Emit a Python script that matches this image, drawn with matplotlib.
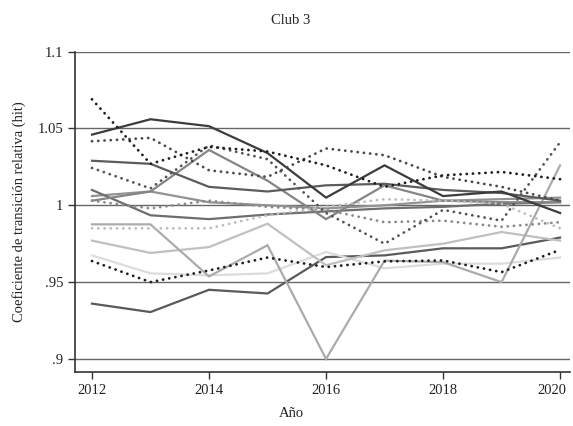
import numpy as np
import matplotlib.pyplot as plt
from matplotlib.transforms import ScaledTranslation

# Coeficiente de transición relativa por región, Club 3
years = [2012, 2013, 2014, 2015, 2016, 2017, 2018, 2019, 2020]

# líneas continuas
s1 = [1.046, 1.056, 1.0515, 1.034, 1.005, 1.026, 1.006, 1.009, 0.995]
s2 = [1.029, 1.027, 1.012, 1.009, 1.013, 1.014, 1.010, 1.008, 1.003]
s3 = [1.003, 1.009, 1.036, 1.016, 0.991, 1.013, 1.003, 1.002, 1.002]
s4 = [1.010, 0.9935, 0.991, 0.994, 0.996, 0.998, 0.999, 1.001, 1.002]
s5 = [1.006, 1.009, 1.002, 1.000, 0.998, 1.000, 1.003, 1.004, 1.005]
s6 = [0.9876, 0.9876, 0.9537, 0.974, 0.900, 0.964, 0.963, 0.950, 1.026]
s7 = [0.977, 0.969, 0.9728, 0.988, 0.961, 0.9707, 0.975, 0.9826, 0.977]
s8 = [0.9674, 0.9557, 0.9544, 0.9557, 0.9696, 0.959, 0.962, 0.962, 0.966]
s9 = [0.936, 0.9305, 0.945, 0.9426, 0.9663, 0.9674, 0.972, 0.972, 0.979]

# líneas punteadas
d1 = [1.069, 1.027, 1.038, 1.035, 1.026, 1.012, 1.0195, 1.0217, 1.017]
d2 = [1.0417, 1.0439, 1.0228, 1.0185, 1.037, 1.0326, 1.0185, 1.012, 1.003]
d3 = [1.0243, 1.011, 1.039, 1.030, 0.995, 0.975, 0.997, 0.990, 1.041]
d4 = [0.9637, 0.950, 0.9576, 0.966, 0.9598, 0.9635, 0.9641, 0.9565, 0.971]
d5 = [0.985, 0.985, 0.985, 0.9935, 0.999, 1.004, 1.003, 1.001, 0.985]
d6 = [1.003, 0.998, 1.003, 0.999, 0.997, 0.989, 0.990, 0.986, 0.989]

solid = [(s9, "#5a5a5a"), (s8, "#dcdcdc"), (s7, "#c0c0c0"), (s6, "#ababab"),
         (s5, "#929292"), (s4, "#6e6e6e"), (s3, "#858585"), (s2, "#5c5c5c"),
         (s1, "#3c3c3c")]
dotted = [(d6, "#8a8a8a"), (d5, "#bdbdbd"), (d4, "#1e1e1e"), (d3, "#555555"),
          (d2, "#4a4a4a"), (d1, "#1e1e1e")]

plt.rcParams["font.family"] = ["Liberation Serif", "DejaVu Serif"]

fig = plt.figure(figsize=(5.73, 4.26), dpi=100)
ax = fig.add_axes([0.1309, 0.1268, 0.8639, 0.7519])

for y in [0.9, 0.95, 1.0, 1.05, 1.1]:
    ax.axhline(y, color="#666666", lw=1.0, zorder=0)

for serie, c in solid:
    ax.plot(years, serie, color=c, lw=1.6, solid_joinstyle="miter")
for serie, c in dotted:
    ax.plot(years, serie, color=c, lw=2.0, linestyle=(0, (0.05, 2.2)),
            dash_capstyle="round")

ax.set_xlim(2011.71, 2020.17)
ax.set_ylim(0.8915, 1.1)
ax.set_xticks([2012, 2014, 2016, 2018, 2020])
ax.set_yticks([0.9, 0.95, 1.0, 1.05, 1.1])
ax.set_yticklabels([".9", ".95", "1", "1.05", "1.1"])

for side in ["top", "right"]:
    ax.spines[side].set_visible(False)
for side in ["left", "bottom"]:
    ax.spines[side].set_color("#333333")
    ax.spines[side].set_linewidth(1.2)
ax.tick_params(colors="#333333", width=1.0, length=5, labelsize=10.5,
               labelcolor="#222222")

# la última etiqueta del eje x se corre un poco a la izquierda
last = ax.get_xticklabels()[-1]
last.set_transform(last.get_transform()
                   + ScaledTranslation(-8 / 100, 0, fig.dpi_scale_trans))

ax.set_ylabel("Coeficiente de transición relativa (hit)", fontsize=10.5,
              color="#222222", labelpad=8)
fig.text(0.508, 0.953, "Club 3", ha="center", va="center", fontsize=10.5,
         color="#222222")
fig.text(0.508, 0.03, "Año", ha="center", va="center", fontsize=10.5,
         color="#222222")

fig.savefig("out.png", dpi=100)
